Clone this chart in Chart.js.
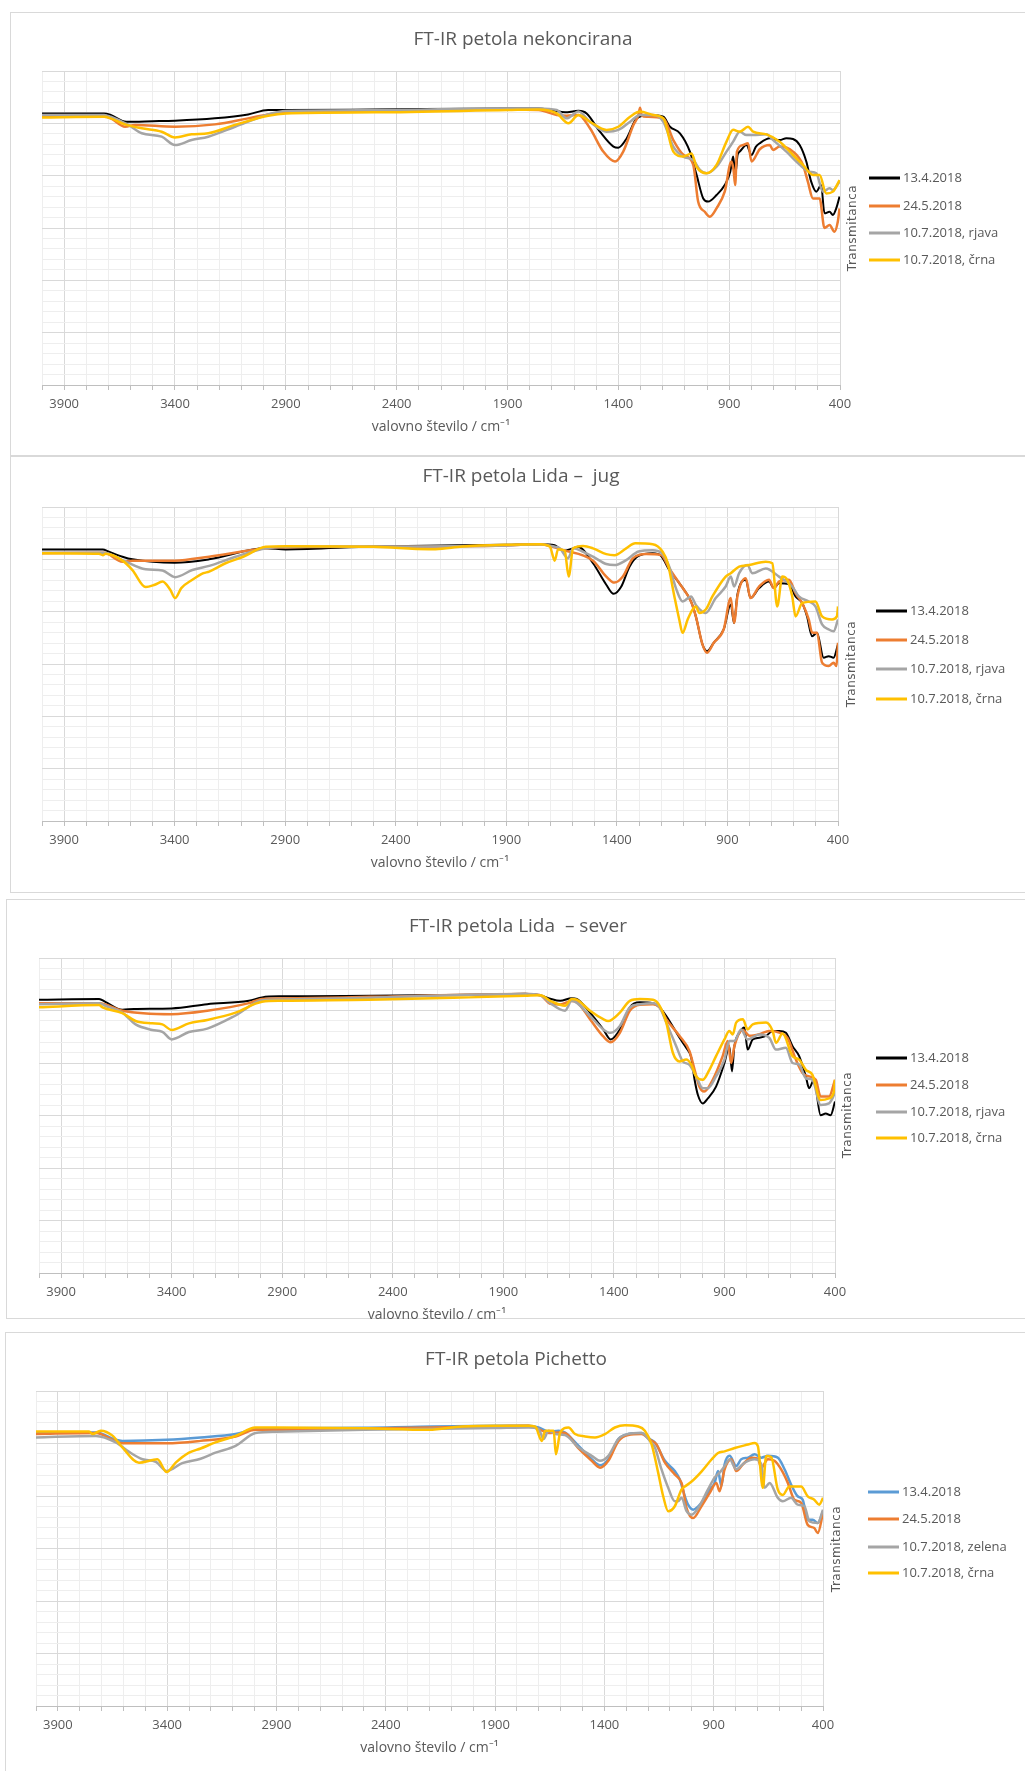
<!DOCTYPE html>
<html>
<head>
<meta charset="utf-8">
<title>FT-IR petola</title>
<script src="https://cdn.jsdelivr.net/npm/chart.js"></script>
<style>
  body { margin: 0; width: 1025px; height: 1771px; overflow: hidden; background: #fff; }
  .box { position: absolute; border: 1px solid #d9d9d9; background: #fff; width: 1060px; }
  .box canvas { position: absolute; left: 0; top: 0; }
</style>
</head>
<body>
<div class="box" style="left:10px; top:12px; height:442px;"><canvas id="c1" width="1020" height="432"></canvas></div>
<div class="box" style="left:10px; top:456px; height:435px;"><canvas id="c2" width="1020" height="424"></canvas></div>
<div class="box" style="left:6px; top:899px; height:418px;"><canvas id="c3" width="1020" height="433"></canvas></div>
<div class="box" style="left:5px; top:1332px; height:460px;"><canvas id="c4" width="1020" height="433"></canvas></div>

<script>
// x axis labels (wavenumber, cm-1)
const xTickLabels = [3900, 3400, 2900, 2400, 1900, 1400, 900, 400];

const namesRjava = ['13.4.2018', '24.5.2018', '10.7.2018, rjava', '10.7.2018, črna'];
const namesZelena = ['13.4.2018', '24.5.2018', '10.7.2018, zelena', '10.7.2018, črna'];
const colorsA = ['#000000', '#ED7D31', '#A5A5A5', '#FFC000'];
const colorsB = ['#5B9BD5', '#ED7D31', '#A5A5A5', '#FFC000'];

// ---- FT-IR petola nekoncirana : [wavenumber, transmitanca]
const nek13 = [[4000,103.8],[3720,103.8],[3690,103.2],[3620,100.6],[3500,100.8],[3400,101.0],[3220,101.9],[3070,103.4],[2980,105.1],[2900,105.1],[2500,105.3],[1900,105.7],[1760,105.7],[1700,105.1],[1640,104.2],[1600,104.6],[1580,104.8],[1543,103.8],[1483,96.8],[1422,91.1],[1400,90.7],[1362,94.3],[1317,101.9],[1257,103.2],[1197,102.5],[1167,98.7],[1122,96.2],[1077,89.2],[1047,80.3],[1017,71.3],[995,70.1],[957,72.6],[920,76.4],[895,81.5],[882,87.3],[872,80.5],[862,88.0],[852,89.2],[822,91.7],[799,87.9],[780,91.0],[762,92.4],[717,94.3],[672,93.6],[642,94.3],[612,94.0],[582,91.7],[552,85.4],[530,77.7],[507,73.9],[485,76.4],[470,65.6],[447,66.2],[432,65.0],[417,67.5],[402,72.0]];
const nek24 = [[4000,102.5],[3720,102.5],[3690,101.9],[3625,98.7],[3580,99.4],[3400,98.7],[3220,99.6],[3070,101.9],[2980,103.4],[2900,104.2],[2500,104.5],[1900,105.3],[1760,105.1],[1678,103.2],[1633,102.9],[1580,103.2],[1528,98.1],[1468,89.2],[1415,85.4],[1378,89.2],[1332,99.4],[1310,103.0],[1302,106.0],[1294,103.0],[1272,102.5],[1197,101.9],[1152,93.6],[1107,88.0],[1062,84.1],[1040,70.1],[1010,66.2],[987,64.3],[957,67.5],[920,73.9],[890,85.4],[880,82.0],[873,76.4],[865,89.2],[837,91.7],[815,92.4],[799,85.4],[762,90.1],[717,91.7],[702,89.8],[672,91.1],[612,89.2],[567,84.1],[545,77.7],[522,71.3],[492,71.3],[470,60.0],[447,61.1],[425,58.6],[410,62.4],[402,67.5]];
const nekRjava = [[4000,103.2],[3720,103.2],[3690,102.5],[3611,99.4],[3550,96.2],[3460,94.9],[3400,91.7],[3325,93.6],[3250,94.9],[3129,98.7],[2980,103.4],[2900,104.7],[2500,105.0],[1900,105.7],[1760,105.7],[1678,105.1],[1633,101.9],[1580,104.5],[1528,100.6],[1453,96.8],[1400,97.5],[1347,100.6],[1302,103.2],[1242,103.2],[1197,100.6],[1152,91.1],[1107,87.3],[1062,86.0],[1032,82.2],[1002,80.9],[957,83.4],[912,89.2],[882,93.0],[852,96.8],[822,95.5],[792,95.5],[732,95.8],[702,93.6],[642,89.2],[597,85.4],[537,81.5],[507,80.9],[477,73.9],[447,75.2],[432,74.5],[402,77.7]];
const nekCrna = [[4000,102.2],[3720,102.5],[3690,101.9],[3626,99.6],[3550,98.1],[3460,96.8],[3400,94.6],[3325,95.8],[3250,96.2],[3129,99.4],[2980,102.9],[2900,103.8],[2500,104.2],[1900,105.1],[1760,105.3],[1678,103.8],[1625,100.0],[1580,103.2],[1528,100.6],[1453,97.5],[1400,98.7],[1347,102.5],[1302,104.5],[1242,103.2],[1197,101.9],[1152,89.2],[1107,87.3],[1070,88.5],[1047,83.4],[1002,80.9],[957,84.1],[912,93.0],[882,97.5],[852,96.8],[815,98.7],[792,96.8],[732,95.8],[672,93.0],[612,87.9],[567,84.1],[522,80.3],[492,80.3],[462,73.2],[432,73.9],[402,78.3]];

// ---- FT-IR petola Lida – jug
const jug13 = [[4000,103.8],[3725,103.8],[3700,103.0],[3636,101.0],[3591,100.0],[3400,98.7],[3244,100.0],[2988,104.2],[2898,103.8],[2500,104.9],[1900,105.6],[1748,105.8],[1681,105.4],[1643,103.3],[1598,104.2],[1576,104.8],[1508,98.5],[1448,90.3],[1415,86.8],[1380,89.6],[1343,97.2],[1302,101.3],[1238,102.3],[1200,101.3],[1163,95.9],[1118,90.9],[1065,83.9],[1043,78.2],[1013,67.5],[992,64.9],[962,68.1],[917,73.2],[885,82.7],[870,75.7],[855,86.5],[817,92.2],[796,85.2],[757,89.0],[712,91.5],[690,89.0],[667,90.9],[622,90.6],[592,85.8],[562,83.3],[540,78.2],[517,70.6],[495,71.9],[465,62.4],[442,63.0],[420,62.4],[400,67.5]];
const jug24 = [[4000,102.3],[3720,102.5],[3636,99.1],[3591,99.5],[3400,99.5],[3244,101.0],[2988,104.2],[2900,104.6],[2500,104.8],[1900,105.3],[1748,105.8],[1643,103.5],[1508,99.5],[1448,93.4],[1411,91.1],[1373,93.4],[1328,100.4],[1268,102.0],[1200,101.6],[1163,96.5],[1118,90.9],[1065,83.9],[1043,78.2],[1013,67.5],[992,64.3],[962,68.1],[917,73.2],[885,85.2],[870,75.7],[855,85.8],[817,92.8],[796,85.2],[757,89.6],[712,92.2],[690,89.0],[667,91.5],[622,92.2],[592,87.1],[562,83.3],[532,77.0],[517,72.0],[495,71.9],[472,60.5],[442,59.2],[420,60.5],[407,59.2],[400,68.1]];
const jugRjava = [[4000,102.5],[3720,102.5],[3636,99.7],[3531,96.2],[3455,95.7],[3398,93.2],[3320,95.9],[3244,97.5],[3124,101.0],[2988,104.2],[2900,104.8],[2500,104.9],[1900,105.3],[1748,105.8],[1681,104.8],[1658,104.2],[1621,100.4],[1598,104.2],[1553,102.9],[1508,101.0],[1448,98.2],[1411,97.8],[1358,99.7],[1302,103.0],[1238,103.5],[1200,102.6],[1163,97.2],[1133,89.0],[1103,83.9],[1065,85.8],[1043,82.6],[1013,80.0],[998,79.5],[953,85.2],[908,89.6],[885,93.4],[870,89.6],[847,94.7],[810,97.8],[787,94.7],[727,96.5],[667,93.4],[607,89.6],[577,85.8],[532,83.9],[502,82.0],[472,75.1],[442,73.2],[420,72.5],[400,77.0]];
const jugCrna = [[4000,102.3],[3742,102.1],[3725,101.6],[3712,102.1],[3636,99.5],[3591,95.9],[3531,89.4],[3490,90.3],[3455,91.5],[3420,88.4],[3398,85.2],[3370,89.0],[3320,92.2],[3270,94.7],[3244,95.3],[3170,98.5],[3090,101.0],[2988,104.8],[2898,105.0],[2500,104.8],[2250,103.9],[2220,103.9],[2100,104.9],[1900,105.6],[1748,105.8],[1703,104.8],[1681,99.5],[1666,103.9],[1636,103.3],[1618,93.4],[1598,104.2],[1553,105.1],[1508,104.2],[1448,102.0],[1411,101.6],[1358,104.2],[1317,106.1],[1238,105.8],[1193,102.9],[1170,98.5],[1140,85.8],[1118,77.0],[1103,71.9],[1080,77.0],[1058,80.8],[1043,82.0],[1028,79.5],[998,80.8],[968,85.8],[908,93.4],[885,94.7],[847,97.2],[802,97.8],[727,99.1],[697,98.5],[675,82.0],[652,93.4],[630,92.2],[607,85.8],[592,78.2],[562,83.3],[502,83.9],[472,78.2],[427,77.0],[405,78.2],[400,82.0]];

// ---- FT-IR petola Lida – sever
const sev13 = [[4000,104.1],[3728,104.4],[3700,103.3],[3623,100.3],[3570,100.6],[3400,100.8],[3239,102.4],[3051,103.7],[2991,105.0],[2900,105.4],[2500,105.6],[2058,106.0],[1802,106.4],[1733,105.8],[1688,104.5],[1643,103.7],[1591,104.7],[1568,104.4],[1508,99.2],[1448,92.8],[1415,89.0],[1373,92.8],[1328,101.2],[1283,103.1],[1223,102.8],[1193,101.2],[1163,97.9],[1103,89.6],[1073,85.8],[1050,82.0],[1035,73.6],[1020,67.8],[998,64.6],[975,66.5],[938,71.0],[900,80.0],[878,86.4],[866,76.8],[855,86.4],[832,91.5],[810,93.5],[795,85.1],[772,89.0],[742,89.6],[712,90.3],[682,92.2],[652,92.2],[622,91.5],[592,86.4],[562,82.6],[532,74.9],[517,70.4],[495,73.6],[465,60.1],[442,60.8],[420,60.1],[400,65.3]];
const sev24 = [[4000,102.8],[3728,102.8],[3623,99.9],[3400,98.6],[3239,99.9],[3051,102.8],[2991,104.4],[2900,104.6],[2500,105.2],[1802,106.3],[1733,105.8],[1688,102.6],[1643,102.3],[1591,103.6],[1568,103.2],[1508,96.7],[1448,90.1],[1415,87.9],[1373,91.5],[1328,99.9],[1283,102.2],[1223,102.4],[1193,101.2],[1163,96.7],[1103,90.3],[1058,84.5],[1035,77.4],[1013,71.0],[992,69.1],[953,73.6],[908,82.6],[885,88.4],[870,80.0],[855,86.4],[817,92.6],[787,90.4],[742,91.0],[697,92.2],[652,91.6],[615,89.6],[577,81.3],[547,76.2],[517,74.9],[487,73.6],[465,67.2],[427,67.2],[400,73.6]];
const sevRjava = [[4000,102.4],[3728,102.8],[3700,101.8],[3623,99.2],[3563,94.7],[3488,92.6],[3442,91.9],[3400,89.0],[3322,91.8],[3239,93.1],[3111,98.1],[2991,103.9],[2900,104.2],[2500,104.9],[1802,106.3],[1733,105.8],[1688,102.8],[1621,99.9],[1591,103.7],[1508,97.9],[1448,92.8],[1415,91.5],[1373,94.1],[1328,101.2],[1283,102.4],[1223,102.8],[1193,101.2],[1163,95.4],[1118,86.4],[1088,80.6],[1058,79.3],[1028,74.9],[998,70.4],[975,70.4],[938,74.9],[900,81.3],[878,88.4],[855,88.4],[825,92.8],[795,89.0],[742,90.9],[697,89.6],[667,85.1],[622,85.8],[592,80.0],[562,79.4],[532,74.2],[502,73.6],[465,64.0],[427,64.6],[400,68.5]];
const sevCrna = [[4000,101.2],[3728,102.1],[3713,101.2],[3623,99.0],[3563,96.0],[3488,95.1],[3442,94.7],[3400,92.6],[3322,95.1],[3239,96.4],[3111,99.2],[2991,103.3],[2900,103.7],[2509,104.1],[2058,105.0],[1802,105.6],[1733,105.8],[1688,103.7],[1621,101.8],[1591,104.4],[1568,104.1],[1508,99.9],[1448,96.7],[1426,96.0],[1373,99.2],[1328,103.7],[1283,104.4],[1223,104.1],[1193,101.8],[1163,95.4],[1133,83.8],[1103,80.6],[1073,81.3],[1050,79.4],[1028,74.9],[998,73.6],[968,77.4],[938,82.6],[900,89.0],[878,92.2],[862,90.9],[847,95.4],[817,96.7],[795,92.8],[772,94.7],[712,95.4],[682,92.2],[667,87.7],[637,91.2],[592,82.6],[562,81.3],[532,77.4],[502,75.5],[465,65.9],[427,66.5],[405,69.0],[400,73.6]];

// ---- FT-IR petola Pichetto
const pic13 = [[4000,104.0],[3726,104.2],[3635,101.4],[3605,101.0],[3402,101.4],[3247,102.3],[3087,103.6],[2996,105.5],[2902,105.8],[2500,106.0],[1900,106.8],[1747,106.8],[1701,106.1],[1655,104.5],[1610,104.9],[1580,104.2],[1518,99.1],[1458,94.0],[1420,91.7],[1382,94.0],[1336,101.7],[1291,103.6],[1230,104.0],[1192,101.7],[1169,100.4],[1123,93.4],[1078,89.5],[1055,86.3],[1032,79.9],[1017,76.7],[994,74.8],[956,77.4],[918,82.5],[896,85.0],[880,89.5],[865,83.8],[850,92.1],[827,95.3],[797,91.4],[774,94.0],[743,94.6],[713,95.9],[682,94.6],[652,95.3],[607,94.6],[576,90.2],[546,84.4],[516,79.9],[493,78.6],[470,71.0],[447,71.0],[424,69.7],[400,74.2]];
const pic24 = [[4000,103.6],[3726,104.0],[3605,100.1],[3402,100.1],[3247,101.0],[3087,102.7],[2996,105.2],[2902,105.2],[2500,105.7],[1900,106.5],[1747,106.8],[1701,105.5],[1655,104.0],[1610,104.2],[1580,104.0],[1518,98.1],[1458,93.4],[1420,90.8],[1382,93.4],[1336,100.9],[1291,103.2],[1230,103.6],[1192,101.4],[1162,99.7],[1123,92.7],[1078,88.2],[1047,85.0],[1040,82.5],[1024,75.4],[994,71.6],[956,76.1],[918,81.2],[888,85.0],[873,81.8],[850,90.2],[819,94.0],[797,89.5],[766,92.1],[728,94.6],[698,94.2],[682,90.8],[652,94.0],[622,93.4],[592,90.2],[561,85.0],[531,78.6],[500,77.4],[470,69.0],[440,67.8],[424,65.9],[400,73.5]];
const picZelena = [[4000,102.3],[3726,102.9],[3635,100.4],[3574,96.8],[3513,94.0],[3452,93.0],[3402,89.5],[3331,92.5],[3247,94.2],[3179,96.5],[3087,99.1],[2996,104.0],[2902,104.5],[2500,105.2],[1900,105.9],[1747,106.1],[1701,105.5],[1678,101.7],[1655,104.9],[1625,103.6],[1580,103.2],[1518,98.5],[1458,95.3],[1420,93.4],[1382,95.3],[1336,101.7],[1291,103.6],[1230,104.0],[1192,101.0],[1169,98.5],[1139,90.2],[1108,83.1],[1078,78.0],[1063,78.0],[1047,79.3],[1024,74.2],[1001,72.9],[971,75.4],[926,82.5],[896,87.0],[873,88.9],[850,91.4],[827,94.0],[797,90.2],[758,92.7],[713,94.0],[682,92.1],[667,83.1],[644,85.0],[607,79.3],[584,78.0],[546,79.3],[516,76.7],[485,76.1],[462,70.3],[424,69.7],[400,74.8]];
const picCrna = [[4000,104.6],[3757,104.6],[3742,103.6],[3704,104.9],[3650,103.0],[3605,98.5],[3529,92.7],[3468,93.7],[3445,94.0],[3402,89.1],[3361,92.7],[3300,96.5],[3247,98.1],[3179,100.4],[3087,102.9],[2996,106.1],[2902,106.1],[2500,105.8],[2204,105.2],[2052,106.5],[1900,106.8],[1747,106.8],[1716,106.4],[1686,101.0],[1671,104.9],[1632,104.9],[1622,95.9],[1602,104.2],[1564,106.1],[1534,103.6],[1488,102.7],[1443,102.3],[1397,103.6],[1352,106.1],[1306,107.0],[1245,106.5],[1215,104.9],[1184,99.7],[1154,88.9],[1131,79.9],[1108,74.2],[1078,76.1],[1047,82.5],[1032,83.6],[1001,85.5],[956,89.3],[911,93.8],[880,96.4],[850,97.0],[804,98.3],[743,99.6],[713,100.2],[698,99.0],[675,83.1],[660,95.2],[637,94.8],[607,82.5],[584,80.4],[554,83.6],[500,83.6],[470,79.9],[440,78.6],[417,76.7],[400,79.3]];

const FONT = '"Open Sans", sans-serif';
Chart.defaults.font.family = FONT;
Chart.defaults.color = '#595959';

// draws chart title, legend and the rotated y title
const decor = {
    id: 'decor',
    afterDraw(chart, args, o) {
        const ctx = chart.ctx;
        ctx.save();
        ctx.fillStyle = '#595959';
        ctx.textBaseline = 'middle';
        ctx.textAlign = 'center';
        ctx.font = '19px ' + FONT;
        ctx.fillText(o.title, o.titleX, o.titleY);

        ctx.textAlign = 'left';
        ctx.font = '13px ' + FONT;
        o.names.forEach((n, i) => {
            const y = o.legendY[i];
            ctx.strokeStyle = o.colors[i];
            ctx.lineWidth = 3;
            ctx.beginPath();
            ctx.moveTo(o.legendX, y);
            ctx.lineTo(o.legendX + 31, y);
            ctx.stroke();
            ctx.fillText(n, o.legendX + 34, y);
        });

        ctx.translate(o.yTitleX, o.yTitleY);
        ctx.rotate(-Math.PI / 2);
        ctx.textAlign = 'center';
        ctx.font = '12px "DejaVu Sans", sans-serif';
        ctx.letterSpacing = '0.5px';
        ctx.fillText('Transmitanca', 0, 0);
        ctx.restore();
    }
};

function makeChart(id, series, names, colors, box, deco) {
    const canvas = document.getElementById(id);
    return new Chart(canvas, {
        type: 'line',
        data: {
            datasets: series.map((s, i) => ({
                label: names[i],
                data: s,
                borderColor: colors[i],
                borderWidth: i === 0 && colors[0] === '#000000' ? 2 : 2.5,
                pointRadius: 0,
                cubicInterpolationMode: 'monotone',
                order: 4 - i
            }))
        },
        options: {
            responsive: false,
            animation: false,
            layout: {
                padding: { left: box.left, top: box.top, right: canvas.width - box.right, bottom: 8 }
            },
            plugins: {
                legend: { display: false },
                title: { display: false },
                tooltip: { enabled: false },
                decor: Object.assign({ names, colors }, deco)
            },
            scales: {
                x: {
                    type: 'linear',
                    min: 400,
                    max: 4000,
                    reverse: true,
                    afterFit: s => { s.height = 52; },
                    ticks: {
                        stepSize: 100,
                        autoSkip: false,
                        maxRotation: 0,
                        padding: 6,
                        font: { size: 13 },
                        callback: v => xTickLabels.includes(Math.round(v)) ? String(Math.round(v)) : ''
                    },
                    grid: {
                        color: c => (c.tick && xTickLabels.includes(Math.round(c.tick.value))) ? '#d9d9d9' : '#eeeeee',
                        tickLength: 5,
                        tickColor: '#bfbfbf'
                    },
                    border: { color: '#bfbfbf' },
                    title: {
                        display: true,
                        text: 'valovno število / cm⁻¹',
                        font: { size: 14 },
                        padding: { top: 0, bottom: 2 }
                    }
                },
                y: {
                    min: 0,
                    max: 120,
                    afterFit: s => { s.width = 0; },
                    ticks: { display: false, stepSize: 4 },
                    grid: {
                        color: c => (c.tick && Math.round(c.tick.value) % 20 === 0) ? '#d9d9d9' : '#eeeeee',
                        drawTicks: false
                    },
                    border: { display: false }
                }
            }
        },
        plugins: [decor]
    });
}

makeChart('c1', [nek13, nek24, nekRjava, nekCrna], namesRjava, colorsA,
    { left: 31, top: 58, right: 829 },
    { title: 'FT-IR petola nekoncirana', titleX: 512, titleY: 27, legendX: 858, legendY: [165, 193, 220, 247], yTitleX: 842, yTitleY: 215 });

makeChart('c2', [jug13, jug24, jugRjava, jugCrna], namesRjava, colorsA,
    { left: 31, top: 50, right: 827 },
    { title: 'FT-IR petola Lida –  jug', titleX: 510, titleY: 20, legendX: 865, legendY: [154, 183, 212, 242], yTitleX: 841, yTitleY: 207 });

makeChart('c3', [sev13, sev24, sevRjava, sevCrna], namesRjava, colorsA,
    { left: 32, top: 58, right: 828 },
    { title: 'FT-IR petola Lida  – sever', titleX: 511, titleY: 27, legendX: 869, legendY: [158, 185, 212, 238], yTitleX: 841, yTitleY: 215 });

makeChart('c4', [pic13, pic24, picZelena, picCrna], namesZelena, colorsB,
    { left: 30, top: 58, right: 817 },
    { title: 'FT-IR petola Pichetto', titleX: 510, titleY: 27, legendX: 862, legendY: [159, 186, 214, 240], yTitleX: 831, yTitleY: 216 });
</script>
</body>
</html>
